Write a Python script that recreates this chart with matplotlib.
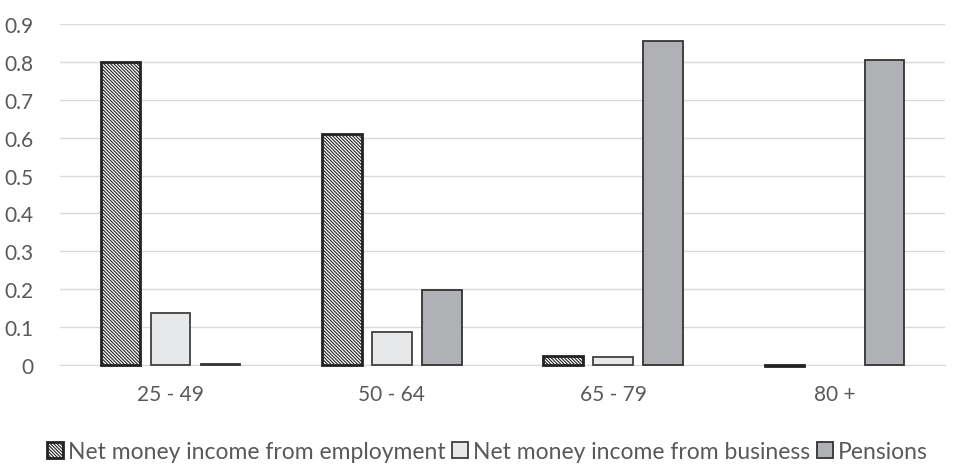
import matplotlib
matplotlib.use('Agg')
import matplotlib.pyplot as plt
import numpy as np

plt.rcParams['font.family'] = ['Lato', 'DejaVu Sans']
plt.rcParams['hatch.linewidth'] = 0.8

age_groups = ['25 - 49', '50 - 64', '65 - 79', '80 +']
employment = [0.80, 0.61, 0.025, -0.003]
business = [0.138, 0.086, 0.022, 0.0]
pensions = [0.003, 0.197, 0.855, 0.806]
tick_values = [0, 0.1, 0.2, 0.3, 0.4, 0.5, 0.6, 0.7, 0.8, 0.9]

fig = plt.figure(figsize=(9.71, 4.77), dpi=100)
ax = fig.add_axes([60 / 971, 111 / 477, 885 / 971, 341 / 477])

x = np.arange(len(age_groups))
w = 0.178
off = 0.226

ax.bar(x - off, employment, w, facecolor='white', edgecolor='#222222',
       hatch='\\' * 10, linewidth=2.0, label='Net money income from employment',
       clip_on=False, zorder=3)
bb = ax.bar(x, business, w, facecolor='#e7e8ea', edgecolor='#404040',
            linewidth=1.3, label='Net money income from business', clip_on=False, zorder=3)
for rect, v in zip(bb, business):
    if v == 0:
        rect.set_linewidth(0)
ax.bar(x + off, pensions, w, facecolor='#b0b1b4', edgecolor='#333333',
       linewidth=1.3, label='Pensions', clip_on=False, zorder=3)

ax.set_xlim(-0.5, 3.5)
ax.set_ylim(0, 0.9)
ax.set_yticks(tick_values)
ax.set_yticklabels(['0' if v == 0 else '{:.1f}'.format(v) for v in tick_values])
ax.set_xticks(x)
ax.set_xticklabels(age_groups)
ax.yaxis.grid(True, color='#d9d9d9', linewidth=1)
ax.set_axisbelow(True)
for s in ['top', 'right', 'left']:
    ax.spines[s].set_visible(False)
ax.spines['bottom'].set_color('#d9d9d9')
ax.tick_params(axis='both', length=0, labelsize=15, colors='#595959')
ax.tick_params(axis='x', pad=14)
ax.tick_params(axis='y', pad=19)

leg = fig.legend(loc='center', bbox_to_anchor=(0.502, 0.052), ncol=3, frameon=False,
                 fontsize=16.5, handlelength=0.7, handleheight=0.7, handletextpad=0.2,
                 columnspacing=0.3, labelcolor='#595959')

fig.savefig('out.png', dpi=100)
